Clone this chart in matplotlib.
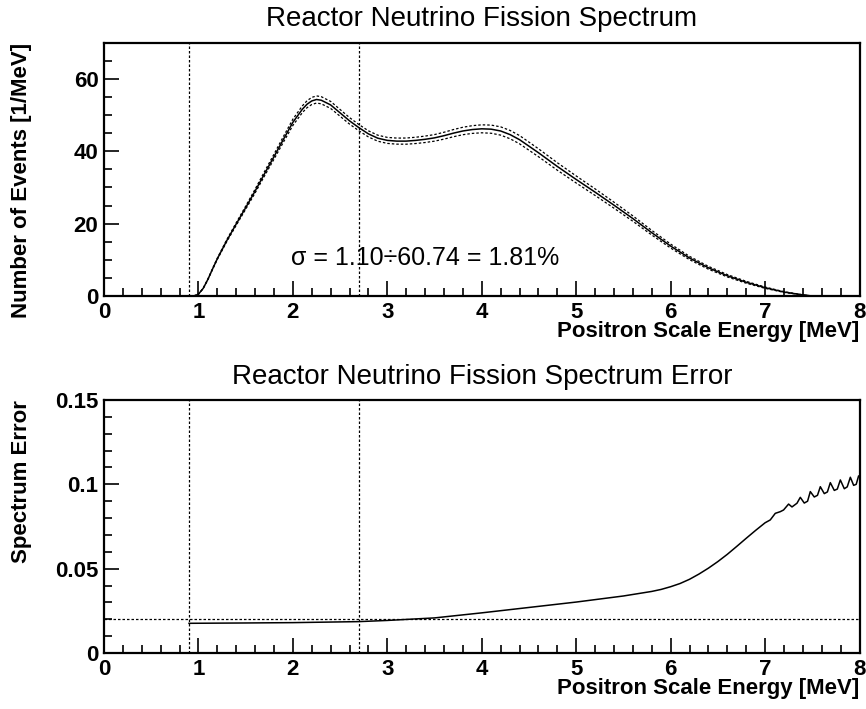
import numpy as np
import matplotlib.pyplot as plt
from matplotlib.ticker import MultipleLocator, FuncFormatter

plt.rcParams['font.family'] = ['Liberation Sans', 'DejaVu Sans']

# spectrum (central value)
spec_x = [0.9, 0.95, 1.0, 1.05, 1.1, 1.15, 1.2, 1.3, 1.4, 1.5, 1.6, 1.7, 1.8, 1.9, 2.0,
          2.1, 2.15, 2.2, 2.25, 2.3, 2.4, 2.5, 2.6, 2.7, 2.8, 2.9, 3.0, 3.1, 3.2,
          3.3, 3.4, 3.5, 3.6, 3.7, 3.8, 3.9, 4.0, 4.1, 4.2, 4.3, 4.4, 4.5, 4.6,
          4.7, 4.8, 4.9, 5.0, 5.2, 5.4, 5.6, 5.8, 6.0, 6.2, 6.4, 6.6, 6.8, 7.0,
          7.2, 7.4, 7.5]
spec_y = [0, 0, 0.5, 2.1, 4.6, 7.5, 10.3, 15.3, 19.9, 24.4, 29.0, 33.8, 38.5, 43.3, 48.0,
          51.6, 53.0, 53.9, 54.3, 54.1, 52.8, 50.6, 48.4, 46.5, 44.8, 43.6, 43.0, 42.8, 42.8,
          43.0, 43.3, 43.7, 44.3, 45.0, 45.6, 46.0, 46.2, 46.1, 45.6, 44.6, 43.2, 41.4, 39.6,
          37.7, 35.8, 34.0, 32.2, 28.7, 25.1, 21.4, 17.5, 13.8, 10.5, 7.8, 5.6, 3.8, 2.3,
          1.1, 0.3, 0.0]

# relative spectrum error
err_x = [0.9, 1.5, 2.0, 2.7, 3.0, 3.5, 4.0, 4.5, 5.0, 5.5, 5.8, 5.9, 6.0, 6.1, 6.2,
         6.3, 6.4, 6.5, 6.6, 6.7, 6.8, 6.9, 7.0, 7.055, 7.108, 7.161, 7.196, 7.249,
         7.285, 7.338, 7.373, 7.415, 7.45, 7.479, 7.521, 7.555, 7.585, 7.627, 7.66,
         7.691, 7.733, 7.765, 7.797, 7.839, 7.87, 7.903, 7.938, 7.965, 7.99]
err_y = [0.0176, 0.0178, 0.0180, 0.0186, 0.0193, 0.0208, 0.0238, 0.0270, 0.0302, 0.0338,
         0.0365, 0.0377, 0.0393, 0.0412, 0.0437, 0.0468, 0.0503, 0.0542, 0.0585, 0.0632,
         0.0680, 0.0727, 0.0772, 0.0789, 0.0828, 0.0838, 0.0848, 0.0883, 0.0866, 0.0888,
         0.0923, 0.0889, 0.0900, 0.0957, 0.0925, 0.0935, 0.0986, 0.0945, 0.0955, 0.1010,
         0.0964, 0.0972, 0.1026, 0.0974, 0.0985, 0.1042, 0.0994, 0.1000, 0.1049]

cut_lo, cut_hi = 0.9, 2.7
err_ref = 0.02
sigma_text = '\u03c3 = 1.10\u00f760.74 = 1.81%'

spec_x = np.array(spec_x)
spec_y = np.array(spec_y)
rel = np.interp(spec_x, err_x, err_y)

fig = plt.figure(figsize=(8.66, 7.09), dpi=100)
ax1 = fig.add_axes([0.1201, 0.5825, 0.8724, 0.3573])
ax2 = fig.add_axes([0.1201, 0.0790, 0.8724, 0.3568])

dash = (0, (2.0, 1.6))

ax1.plot(spec_x, spec_y, color='black', lw=1.1)
ax1.plot(spec_x, spec_y * (1 + rel), color='black', lw=0.9, linestyle=dash)
ax1.plot(spec_x, spec_y * (1 - rel), color='black', lw=0.9, linestyle=dash)
ax1.set_ylim(0, 70)
ax1.text(1.98, 10.5, sigma_text, fontsize=18, va='center', ha='left')
ax1.set_title('Reactor Neutrino Fission Spectrum', fontsize=20, pad=12)
ax1.set_ylabel('Number of Events [1/MeV]', fontsize=16, fontweight='bold', loc='top')
ax1.yaxis.set_major_locator(MultipleLocator(20))
ax1.yaxis.set_minor_locator(MultipleLocator(5))

ax2.plot(err_x, err_y, color='black', lw=1.1)
ax2.axhline(err_ref, color='black', lw=0.9, linestyle=dash)
ax2.set_ylim(0, 0.15)
ax2.set_title('Reactor Neutrino Fission Spectrum Error', fontsize=20, pad=11.5)
ax2.set_ylabel('Spectrum Error', fontsize=16, fontweight='bold', loc='top')
ax2.yaxis.set_major_locator(MultipleLocator(0.05))
ax2.yaxis.set_minor_locator(MultipleLocator(0.01))

for ax in (ax1, ax2):
    ax.axvline(cut_lo, color='black', lw=0.9, linestyle=dash)
    ax.axvline(cut_hi, color='black', lw=0.9, linestyle=dash)
    ax.set_xlim(0, 8)
    ax.set_xlabel('Positron Scale Energy [MeV]', fontsize=16, fontweight='bold', loc='right')
    ax.xaxis.set_major_locator(MultipleLocator(1))
    ax.xaxis.set_minor_locator(MultipleLocator(0.2))
    ax.yaxis.set_major_formatter(FuncFormatter(lambda v, p: '%g' % round(v, 4)))
    ax.tick_params(which='both', direction='in', top=False, right=False, width=1.2)
    ax.tick_params(which='major', length=11, labelsize=16, pad=4)
    ax.tick_params(which='minor', length=6)
    for lab in ax.get_xticklabels() + ax.get_yticklabels():
        lab.set_fontweight('bold')
    for sp in ax.spines.values():
        sp.set_linewidth(1.6)
    ax.yaxis.set_label_coords(-0.0954, 1.0)
    ax.xaxis.set_label_coords(1.0, -0.1)

fig.savefig('out.png', dpi=100)
